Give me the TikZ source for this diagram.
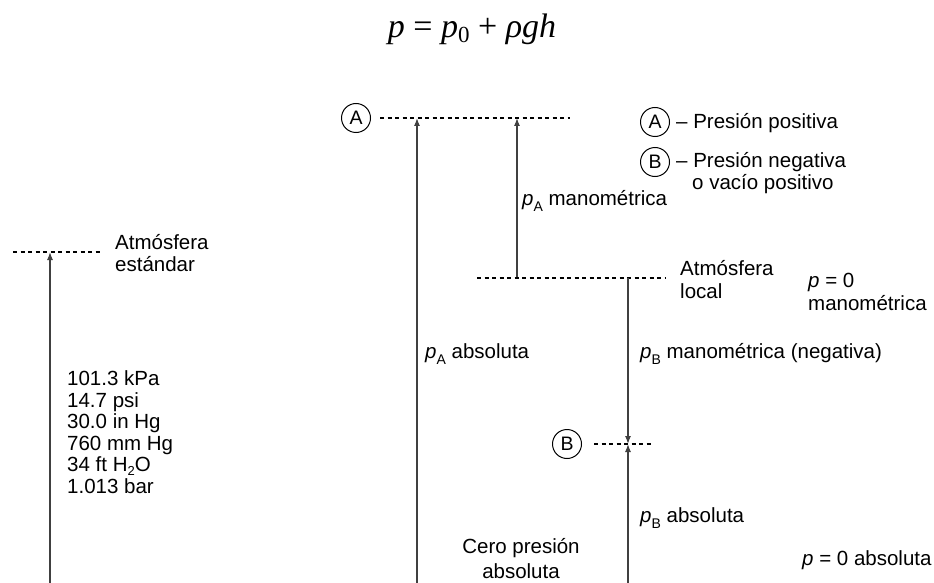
\documentclass[tikz,border=0pt]{standalone}
\usepackage{fontspec}
\setmainfont{Liberation Sans}
\newfontfamily\eqfont{Liberation Serif}
\usetikzlibrary{arrows.meta}
\newcommand\psub[1]{\textit{p}\smash{\raisebox{-0.55ex}{\fontsize{14}{14}\selectfont #1}}}
\begin{document}
\begin{tikzpicture}[x=1pt,y=-1pt,
  lbl/.style={font=\fontsize{20.5}{23}\selectfont, inner sep=0pt, anchor=west, align=left},
  lblc/.style={font=\fontsize{20.5}{25}\selectfont, inner sep=0pt, align=center},
  dline/.style={line width=1.3pt, dash pattern=on 4pt off 3.5pt},
  vline/.style={line width=1.2pt, draw=black!75},
  arr/.style={vline, -{Latex[length=8pt,width=6pt]}},
  circ/.style={circle, draw, line width=1pt, minimum size=29pt, inner sep=0pt, font=\fontsize{19.5}{19.5}\selectfont}
]
\useasboundingbox (0,0) rectangle (934,583);

% equation
\node[inner sep=0pt, font=\eqfont\fontsize{34}{38}\selectfont] (eq) at (472,29)
  {\textit{p} = \textit{p}\raisebox{-0.35ex}{\fontsize{23}{23}\selectfont 0} + \textit{ρgh}};

% standard atmosphere
\coordinate (sL) at (13,252);
\coordinate (sR) at (100,252);
\coordinate (sTop) at (50,252);
\coordinate (sBot) at (50,583);
\draw[dline] (sL) -- (sR);
\draw[arr] (sBot) -- (sTop);
\node[lbl, font=\fontsize{20.5}{22.5}\selectfont] (std) at (115,253) {Atmósfera\\estándar};
\node[lbl, font=\fontsize{20.5}{21.5}\selectfont] (vals) at (67,432)
  {101.3 kPa\\14.7 psi\\30.0 in Hg\\760 mm Hg\\34 ft H\smash{\raisebox{-0.35ex}{\fontsize{13}{13}\selectfont 2}}O\\1.013 bar};

% point A
\node[circ] (A) at (356,118) {A};
\coordinate (aR) at (570,118);
\draw[dline] ([xshift=9pt]A.east) -- (aR);
\coordinate (aTop1) at (417,118);
\coordinate (aBot1) at (417,583);
\draw[arr] (aBot1) -- (aTop1);
\coordinate (aTop2) at (517,118);
\coordinate (loc2) at (517,278);
\draw[arr] (loc2) -- (aTop2);

% local atmosphere
\coordinate (locL) at (477,278);
\coordinate (locR) at (665,278);
\draw[dline] (locL) -- (locR);
\coordinate (bTop) at (628,278);
\coordinate (bPt) at (628,444);
\coordinate (bBot) at (628,583);
\draw[arr] (bTop) -- (bPt);
\draw[arr] (bBot) -- (bPt);

% point B
\node[circ] (B) at (567,444) {B};
\coordinate (bR) at (653,444);
\draw[dline] ([xshift=12pt]B.east) -- (bR);

% legend
\node[circ] (LA) at (655,122) {A};
\node[lbl] (LAt) at (676,123) {– Presión positiva};
\node[circ] (LB) at (655,162) {B};
\node[lbl] (LBt) at (676,162) {– Presión negativa};
\node[lbl] (LBt2) at (692,184) {o vacío positivo};

% labels
\node[lbl] (pAman) at (522,200) {\psub{A} manométrica};
\node[lbl, font=\fontsize{20.5}{23}\selectfont] (locl) at (680,280) {Atmósfera\\local};
\node[lbl, font=\fontsize{20.5}{23}\selectfont] (p0m) at (808,292) {\textit{p} = 0\\manométrica};
\node[lbl] (pAabs) at (425,353) {\psub{A} absoluta};
\node[lbl] (pBman) at (640,353) {\psub{B} manométrica (negativa)};
\node[lbl] (pBabs) at (640,517) {\psub{B} absoluta};
\node[lblc] (cero) at (521,559) {Cero presión\\absoluta};
\node[lbl] (p0a) at (802,560) {\textit{p} = 0 absoluta};
\end{tikzpicture}
\end{document}
